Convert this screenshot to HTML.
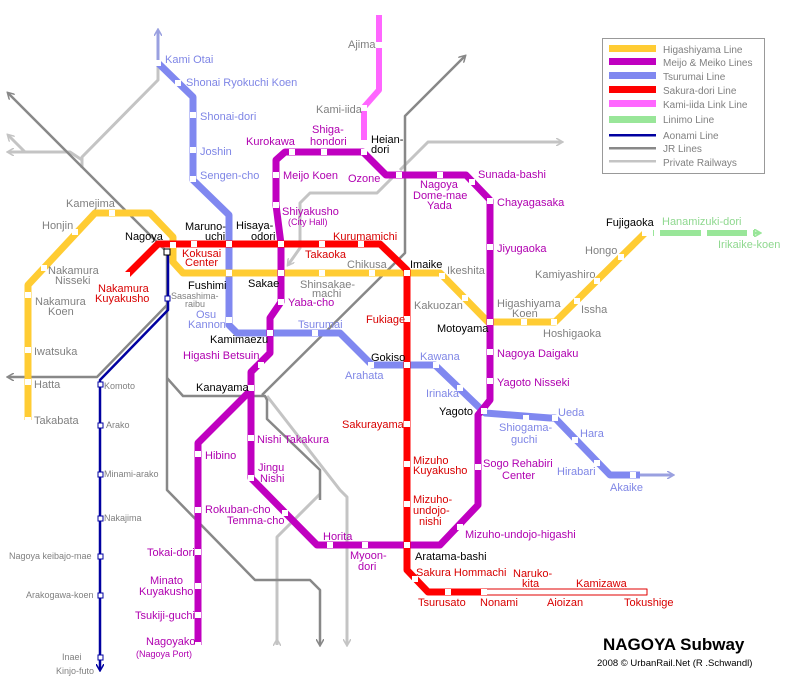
<!DOCTYPE html>
<html><head><meta charset="utf-8"><style>
html,body{margin:0;padding:0;background:#fff;}
svg{display:block;font-family:"Liberation Sans",sans-serif;font-size:11px;}
.g{fill:#808080}.p{fill:#b000b0}.b{fill:#7f86e6}.r{fill:#d80000}.k{fill:#000}.gr{fill:#8fd88f}
.s{fill:#fff;stroke:none}
</style></head><body>
<svg width="800" height="680" viewBox="0 0 800 680" xmlns="http://www.w3.org/2000/svg">
<defs>
<marker id="ah" markerWidth="8" markerHeight="8" refX="6" refY="4" orient="auto" markerUnits="userSpaceOnUse"><path d="M0,0 L7,4 L0,8" fill="none" stroke="context-stroke" stroke-width="1.5"/></marker>
</defs>
<g fill="none" stroke-linejoin="round">
<!-- private railways -->
<g stroke="#c4c4c4" stroke-width="3">
<path d="M158,63 L158,80 L82,157 L82,168"/>
<path d="M82,160 L70,152 L8,152" marker-end="url(#ah)"/>
<path d="M25,152 L8,135" marker-end="url(#ah)"/>
<path d="M393,177 L377,193 L310,193 L300,203 L300,248 L288,265" marker-end="url(#ah)"/>
<path d="M400,170 L428,142 L562,142" marker-end="url(#ah)"/>
<path d="M267,396 L340,490 L347,497 L347,645" marker-end="url(#ah)"/>
<path d="M277,645 L277,537 L320,494" />
<path d="M277,645 L277,640" marker-end="url(#ah)"/>
</g>
<!-- JR -->
<g stroke="#888" stroke-width="2.5">
<path d="M167,252 L8,93" marker-end="url(#ah)"/>
<path d="M167,252 L167,490 L255,580 L310,580 L320,590 L320,645" marker-end="url(#ah)"/>
<path d="M167,378 L183,396 L265,396 L267,400 L267,419 L320,470 L320,500"/>
<path d="M262,395 L405,253 L405,116 L465,56" marker-end="url(#ah)"/>
<path d="M167,305 L97,377 L8,377" marker-end="url(#ah)"/>
</g>
<!-- Aonami -->
<path d="M168,252 L168,310 L100,380 L100,670" stroke="#0000a0" stroke-width="2.5" marker-end="url(#ah)"/>
<!-- Tsurumai -->
<path d="M158,63 L158,30" stroke="#9aa0e0" stroke-width="3" marker-end="url(#ah)"/>
<path d="M158,63 L193,97 L193,180 L229,215 L229,325 L237,333 L340,333 L372,365 L435,365 L485,413 L550,418 L555,418 L610,475 L640,475" stroke="#8088f0" stroke-width="7"/>
<path d="M640,475 L673,475" stroke="#9aa0e0" stroke-width="3" marker-end="url(#ah)"/>
<!-- Kami-iida -->
<path d="M379,15 L379,90 L364,107 L364,145" stroke="#ff66ff" stroke-width="6"/>
<!-- Higashiyama -->
<path d="M28,420 L28,285 L95,213 L150,213 L173,237 L173,262 L183,273 L440,273 L488,322 L555,322 L645,233" stroke="#ffcc33" stroke-width="7"/>
<!-- Linimo -->
<path d="M653,233 L755,233" stroke="#99e699" stroke-width="6"/>
<path d="M755,233 L760,233" stroke="#99e699" stroke-width="3" marker-end="url(#ah)"/>
<!-- Meijo / Meiko -->
<path d="M251,388 L251,372 L270,353 L270,318 L281,302 L281,244 L276,205 L276,160 L285,152 L363,152 L386,175 L466,175 L490,200 L490,400 L478,415 L478,505 L440,545 L317,545 L251,478 L251,388 Z" stroke="#c000c0" stroke-width="7"/>
<path d="M251,390 L198,443 L198,645" stroke="#c000c0" stroke-width="7"/>
<!-- Sakura-dori -->
<path d="M127,275 L158,244 L380,244 L407,270 L407,570 L428,592 L485,592" stroke="#ff0000" stroke-width="7"/>
<rect x="485" y="589" width="162" height="6" stroke="#e00000" stroke-width="1" fill="#fff"/>
</g>
<!-- stations -->
<g class="s">
<rect x="155" y="60" width="6" height="6"/><rect x="175" y="80" width="6" height="6"/><rect x="190" y="112" width="6" height="6"/><rect x="190" y="147" width="6" height="6"/><rect x="190" y="176" width="6" height="6"/>
<rect x="226" y="241" width="6" height="6"/><rect x="226" y="270" width="6" height="6"/><rect x="226" y="317" width="6" height="6"/><rect x="267" y="330" width="6" height="6"/><rect x="312" y="330" width="6" height="6"/><rect x="368" y="362" width="6" height="6"/><rect x="404" y="362" width="6" height="6"/><rect x="433" y="362" width="6" height="6"/><rect x="457" y="385" width="6" height="6"/><rect x="481" y="408" width="6" height="6"/><rect x="523" y="415" width="6" height="6"/><rect x="552" y="415" width="6" height="6"/><rect x="572" y="437" width="6" height="6"/><rect x="594" y="460" width="6" height="6"/><rect x="630" y="472" width="6" height="6"/>
<rect x="25" y="417" width="6" height="6"/><rect x="25" y="379" width="6" height="6"/><rect x="25" y="347" width="6" height="6"/><rect x="25" y="292" width="6" height="6"/><rect x="41" y="265" width="6" height="6"/><rect x="72" y="229" width="6" height="6"/><rect x="109" y="210" width="6" height="6"/><rect x="170" y="242" width="6" height="6"/><rect x="278" y="270" width="6" height="6"/><rect x="319" y="270" width="6" height="6"/><rect x="369" y="270" width="6" height="6"/><rect x="404" y="270" width="6" height="6"/><rect x="439" y="273" width="6" height="6"/><rect x="462" y="295" width="6" height="6"/><rect x="487" y="319" width="6" height="6"/><rect x="521" y="319" width="6" height="6"/><rect x="551" y="319" width="6" height="6"/><rect x="574" y="298" width="6" height="6"/><rect x="594" y="278" width="6" height="6"/><rect x="618" y="254" width="6" height="6"/><rect x="642" y="230" width="6" height="6"/>
<rect x="654" y="230" width="6" height="6"/><rect x="701" y="230" width="6" height="6"/><rect x="747" y="230" width="6" height="6"/>
<rect x="124" y="272" width="6" height="6"/><rect x="191" y="241" width="6" height="6"/><rect x="278" y="241" width="6" height="6"/><rect x="319" y="241" width="6" height="6"/><rect x="358" y="241" width="6" height="6"/><rect x="404" y="316" width="6" height="6"/><rect x="404" y="421" width="6" height="6"/><rect x="404" y="461" width="6" height="6"/><rect x="404" y="501" width="6" height="6"/><rect x="404" y="542" width="6" height="6"/><rect x="412" y="576" width="6" height="6"/><rect x="445" y="589" width="6" height="6"/><rect x="481" y="589" width="6" height="6"/>
<rect x="376" y="42" width="6" height="6"/><rect x="361" y="105" width="6" height="6"/><rect x="361" y="140" width="6" height="6"/>
<rect x="289" y="149" width="6" height="6"/><rect x="321" y="149" width="6" height="6"/><rect x="361" y="149" width="6" height="6"/><rect x="396" y="172" width="6" height="6"/><rect x="437" y="172" width="6" height="6"/><rect x="469" y="179" width="6" height="6"/><rect x="487" y="198" width="6" height="6"/><rect x="487" y="244" width="6" height="6"/><rect x="487" y="349" width="6" height="6"/><rect x="487" y="378" width="6" height="6"/><rect x="475" y="464" width="6" height="6"/><rect x="457" y="524" width="6" height="6"/><rect x="327" y="542" width="6" height="6"/><rect x="362" y="542" width="6" height="6"/><rect x="282" y="510" width="6" height="6"/><rect x="248" y="435" width="6" height="6"/><rect x="248" y="475" width="6" height="6"/><rect x="248" y="385" width="6" height="6"/><rect x="258" y="362" width="6" height="6"/><rect x="278" y="299" width="6" height="6"/><rect x="273" y="172" width="6" height="6"/><rect x="273" y="202" width="6" height="6"/>
<rect x="195" y="451" width="6" height="6"/><rect x="195" y="507" width="6" height="6"/><rect x="195" y="549" width="6" height="6"/><rect x="195" y="583" width="6" height="6"/><rect x="195" y="612" width="6" height="6"/><rect x="195" y="642" width="6" height="6"/>
</g>
<g fill="#fff" stroke="#0000a0" stroke-width="1">
<rect x="164" y="249" width="6" height="6" stroke="#000"/><rect x="165" y="296" width="5" height="5"/><rect x="98" y="382" width="5" height="5"/><rect x="98" y="423" width="5" height="5"/><rect x="98" y="472" width="5" height="5"/><rect x="98" y="516" width="5" height="5"/><rect x="98" y="554" width="5" height="5"/><rect x="98" y="593" width="5" height="5"/><rect x="98" y="655" width="5" height="5"/>
</g>
<!-- labels -->
<g>
<text class="b" x="165" y="63">Kami Otai</text>
<text class="b" x="186" y="86">Shonai Ryokuchi Koen</text>
<text class="b" x="200" y="120">Shonai-dori</text>
<text class="b" x="200" y="155">Joshin</text>
<text class="b" x="200" y="179">Sengen-cho</text>
<text class="g" x="66" y="207">Kamejima</text>
<text class="g" x="42" y="229">Honjin</text>
<text class="k" x="125" y="240">Nagoya</text>
<text class="k" x="185" y="230">Maruno-</text><text class="k" x="205" y="240">uchi</text>
<text class="k" x="236" y="229">Hisaya-</text><text class="k" x="251" y="240">odori</text>
<text class="r" x="182" y="257">Kokusai</text><text class="r" x="185" y="266">Center</text>
<text class="r" x="333" y="240">Kurumamichi</text>
<text class="r" x="305" y="258">Takaoka</text>
<text class="g" x="347" y="268">Chikusa</text>
<text class="g" x="300" y="288">Shinsakae-</text><text class="g" x="312" y="297">machi</text>
<text class="g" x="48" y="274">Nakamura</text><text class="g" x="55" y="284">Nisseki</text>
<text class="r" x="98" y="292">Nakamura</text><text class="r" x="95" y="302">Kuyakusho</text>
<text class="g" x="35" y="305">Nakamura</text><text class="g" x="48" y="315">Koen</text>
<text class="k" x="188" y="289">Fushimi</text>
<text class="k" x="248" y="287">Sakae</text>
<text class="g" x="171" y="299" font-size="9">Sasashima-</text><text class="g" x="185" y="307" font-size="9">raibu</text>
<text class="b" x="196" y="318">Osu</text><text class="b" x="188" y="328">Kannon</text>
<text class="p" x="288" y="306">Yaba-cho</text>
<text class="b" x="298" y="328">Tsurumai</text>
<text class="r" x="366" y="323">Fukiage</text>
<text class="p" x="246" y="145">Kurokawa</text>
<text class="p" x="312" y="133">Shiga-</text><text class="p" x="310" y="145">hondori</text>
<text class="k" x="371" y="143">Heian-</text><text class="k" x="371" y="153">dori</text>
<text class="p" x="283" y="179">Meijo Koen</text>
<text class="p" x="282" y="215">Shiyakusho</text><text class="p" x="288" y="225" font-size="9">(City Hall)</text>
<text class="p" x="348" y="182">Ozone</text>
<text class="g" x="316" y="113">Kami-iida</text>
<text class="g" x="348" y="48">Ajima</text>
<text class="p" x="420" y="188">Nagoya</text><text class="p" x="413" y="199">Dome-mae</text><text class="p" x="427" y="209">Yada</text>
<text class="p" x="478" y="178">Sunada-bashi</text>
<text class="p" x="497" y="206">Chayagasaka</text>
<text class="p" x="497" y="252">Jiyugaoka</text>
<text class="k" x="410" y="268">Imaike</text>
<text class="g" x="447" y="274">Ikeshita</text>
<text class="g" x="414" y="309">Kakuozan</text>
<text class="g" x="497" y="307">Higashiyama</text><text class="g" x="512" y="317">Koen</text>
<text class="k" x="437" y="332">Motoyama</text>
<text class="g" x="543" y="337">Hoshigaoka</text>
<text class="g" x="581" y="313">Issha</text>
<text class="g" x="535" y="278">Kamiyashiro</text>
<text class="g" x="585" y="254">Hongo</text>
<text class="k" x="606" y="226">Fujigaoka</text>
<text class="gr" x="662" y="225">Hanamizuki-dori</text>
<text class="gr" x="718" y="248">Irikaike-koen</text>
<text class="k" x="210" y="343">Kamimaezu</text>
<text class="p" x="183" y="359">Higashi Betsuin</text>
<text class="k" x="196" y="391">Kanayama</text>
<text class="k" x="371" y="361">Gokiso</text>
<text class="b" x="345" y="379">Arahata</text>
<text class="b" x="420" y="360">Kawana</text>
<text class="p" x="497" y="357">Nagoya Daigaku</text>
<text class="p" x="497" y="386">Yagoto Nisseki</text>
<text class="b" x="426" y="397">Irinaka</text>
<text class="k" x="439" y="415">Yagoto</text>
<text class="b" x="558" y="416">Ueda</text>
<text class="b" x="580" y="437">Hara</text>
<text class="b" x="499" y="431">Shiogama-</text><text class="b" x="511" y="443">guchi</text>
<text class="p" x="483" y="467">Sogo Rehabiri</text><text class="p" x="502" y="479">Center</text>
<text class="b" x="557" y="475">Hirabari</text>
<text class="b" x="610" y="491">Akaike</text>
<text class="r" x="342" y="428">Sakurayama</text>
<text class="r" x="413" y="464">Mizuho</text><text class="r" x="413" y="474">Kuyakusho</text>
<text class="r" x="413" y="503">Mizuho-</text><text class="r" x="413" y="514">undojo-</text><text class="r" x="419" y="525">nishi</text>
<text class="p" x="465" y="538">Mizuho-undojo-higashi</text>
<text class="k" x="415" y="560">Aratama-bashi</text>
<text class="r" x="416" y="576">Sakura Hommachi</text>
<text class="r" x="513" y="577">Naruko-</text><text class="r" x="522" y="587">kita</text>
<text class="r" x="576" y="587">Kamizawa</text>
<text class="r" x="418" y="606">Tsurusato</text>
<text class="r" x="480" y="606">Nonami</text>
<text class="r" x="547" y="606">Aioizan</text>
<text class="r" x="624" y="606">Tokushige</text>
<text class="g" x="104" y="389" font-size="9">Komoto</text>
<text class="g" x="106" y="428" font-size="9">Arako</text>
<text class="g" x="104" y="477" font-size="9">Minami-arako</text>
<text class="g" x="104" y="521" font-size="9">Nakajima</text>
<text class="g" x="9" y="559" font-size="9">Nagoya keibajo-mae</text>
<text class="g" x="26" y="598" font-size="9">Arakogawa-koen</text>
<text class="g" x="62" y="660" font-size="9">Inaei</text>
<text class="g" x="56" y="674" font-size="9">Kinjo-futo</text>
<text class="g" x="34" y="355">Iwatsuka</text>
<text class="g" x="34" y="388">Hatta</text>
<text class="g" x="34" y="424">Takabata</text>
<text class="p" x="205" y="459">Hibino</text>
<text class="p" x="257" y="443">Nishi Takakura</text>
<text class="p" x="258" y="471">Jingu</text><text class="p" x="260" y="482">Nishi</text>
<text class="p" x="205" y="513">Rokuban-cho</text>
<text class="p" x="227" y="524">Temma-cho</text>
<text class="p" x="323" y="540">Horita</text>
<text class="p" x="350" y="559">Myoon-</text><text class="p" x="358" y="570">dori</text>
<text class="p" x="147" y="556">Tokai-dori</text>
<text class="p" x="150" y="584">Minato</text><text class="p" x="139" y="595">Kuyakusho</text>
<text class="p" x="135" y="619">Tsukiji-guchi</text>
<text class="p" x="146" y="645">Nagoyako</text><text class="p" x="136" y="657" font-size="9">(Nagoya Port)</text>
</g>
<!-- legend -->
<rect x="602.5" y="38.5" width="162" height="135" fill="#fff" stroke="#999"/>
<g>
<rect x="609" y="45" width="47" height="7" fill="#ffcc33"/>
<rect x="609" y="58" width="47" height="7" fill="#c000c0"/>
<rect x="609" y="72" width="47" height="7" fill="#8088f0"/>
<rect x="609" y="86" width="47" height="7" fill="#ff0000"/>
<rect x="609" y="100" width="47" height="7" fill="#ff66ff"/>
<rect x="609" y="116" width="47" height="7" fill="#99e699"/>
<rect x="609" y="134" width="47" height="2.5" fill="#0000a0"/>
<rect x="609" y="147" width="47" height="2.5" fill="#888"/>
<rect x="609" y="160" width="47" height="2.5" fill="#c4c4c4"/>
<g class="g" font-size="10">
<text x="663" y="53">Higashiyama Line</text>
<text x="663" y="66">Meijo &amp; Meiko Lines</text>
<text x="663" y="80">Tsurumai Line</text>
<text x="663" y="94">Sakura-dori Line</text>
<text x="663" y="108">Kami-iida Link Line</text>
<text x="663" y="123">Linimo Line</text>
<text x="663" y="139">Aonami Line</text>
<text x="663" y="152">JR Lines</text>
<text x="663" y="166">Private Railways</text>
</g>
</g>
<text x="603" y="650" font-size="17" font-weight="bold" fill="#000">NAGOYA Subway</text>
<text x="597" y="666" font-size="9.5" fill="#000">2008 © UrbanRail.Net (R .Schwandl)</text>
</svg>
</body></html>
